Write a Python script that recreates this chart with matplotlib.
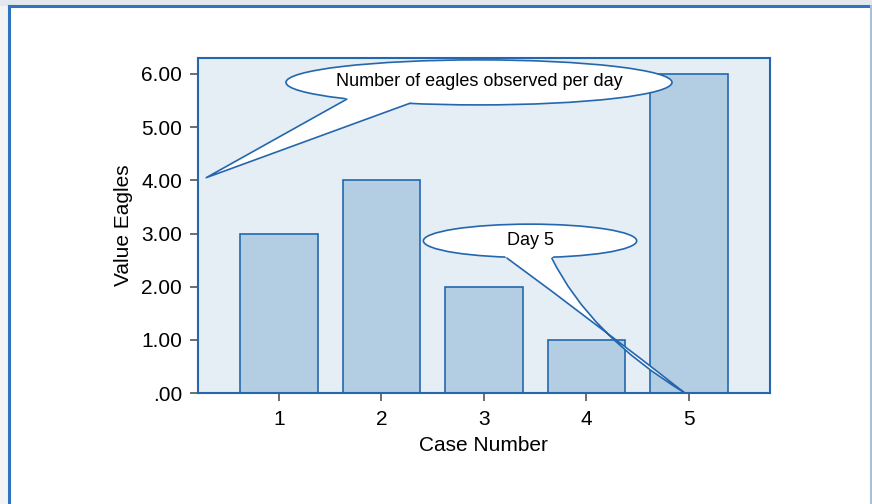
import matplotlib
matplotlib.use("Agg")
import matplotlib.pyplot as plt
from matplotlib.patches import Ellipse, Rectangle, PathPatch
from matplotlib.path import Path
from matplotlib.lines import Line2D

plt.rcParams['font.family'] = ['Liberation Sans', 'DejaVu Sans']

cases = [1, 2, 3, 4, 5]
eagles = [3, 4, 2, 1, 6]
y_ticks = [0, 1, 2, 3, 4, 5, 6]
y_tick_labels = ['.00', '1.00', '2.00', '3.00', '4.00', '5.00', '6.00']
x_tick_labels = ['1', '2', '3', '4', '5']
callout_main = "Number of eagles observed per day"
callout_day = "Day 5"

edge = '#2467AE'
bar_fill = '#B3CDE3'
ax_bg = '#E5EDF5'

fig = plt.figure(figsize=(8.72, 5.04), dpi=100)
fig.patch.set_facecolor('white')

# outer frame decorations
fig.patches.append(Rectangle((0, 0.989), 1, 0.011, transform=fig.transFigure,
                             facecolor='#E3E8EE', edgecolor='none', zorder=0))
fig.patches.append(Rectangle((0, 0), 0.0105, 0.989, transform=fig.transFigure,
                             facecolor='#F2F3F5', edgecolor='none', zorder=0))
fig.lines.append(Line2D([0.0108, 1], [0.9875, 0.9875], transform=fig.transFigure,
                        color='#2E74C0', lw=2.2))
fig.lines.append(Line2D([0.0108, 0.0108], [0, 0.9875], transform=fig.transFigure,
                        color='#2E74C0', lw=2.2))
fig.lines.append(Line2D([0.9988, 0.9988], [0, 0.9875], transform=fig.transFigure,
                        color='#A9BFD8', lw=1.5))

ax = fig.add_axes([0.2265, 0.2202, 0.6565, 0.6657])
ax.set_facecolor(ax_bg)
ax.bar(cases, eagles, width=0.76, color=bar_fill, edgecolor=edge, linewidth=1.2, zorder=2)

ax.set_xlim(0.205, 5.79)
ax.set_ylim(0, 6.31)
ax.set_xticks(cases)
ax.set_xticklabels(x_tick_labels)
ax.set_yticks(y_ticks)
ax.set_yticklabels(y_tick_labels)
ax.tick_params(axis='both', direction='out', length=6, width=1.2, color='#555555')
ax.tick_params(axis='y', labelsize=15, pad=5)
ax.tick_params(axis='x', labelsize=15, pad=6)
for s in ax.spines.values():
    s.set_color(edge)
    s.set_linewidth(1.5)

ax.set_xlabel('Case Number', fontsize=15, labelpad=5)
ax.set_ylabel('Value Eagles', fontsize=15, labelpad=6)

# callout 1
e1 = Ellipse((2.951, 5.842), 3.766, 0.847, facecolor='white', edgecolor=edge,
             linewidth=1.2, zorder=5)
ax.add_patch(e1)
tip1 = (0.29, 4.05)
b1a = (1.660, 5.525)
b1b = (2.278, 5.450)
ax.add_patch(plt.Polygon([(1.62, 5.60), b1a, tip1, b1b, (2.30, 5.52)], closed=True,
                         facecolor='white', edgecolor='none', zorder=6))
ax.add_line(Line2D([b1a[0], tip1[0], b1b[0]], [b1a[1], tip1[1], b1b[1]],
                   color=edge, lw=1.2, zorder=7))
ax.text(2.951, 5.85, callout_main, ha='center', va='center', fontsize=13, zorder=8)

# callout 2
e2 = Ellipse((3.449, 2.862), 2.081, 0.628, facecolor='white', edgecolor=edge,
             linewidth=1.2, zorder=5)
ax.add_patch(e2)
tip2 = (4.96, 0.0)
b2a = (3.221, 2.542)
b2b = (3.660, 2.542)
verts = [b2a, (4.10, 1.30), tip2, (4.034, 1.087), b2b, (3.70, 2.62), (3.18, 2.62), b2a]
codes = [Path.MOVETO, Path.CURVE3, Path.CURVE3, Path.CURVE3, Path.CURVE3,
         Path.LINETO, Path.LINETO, Path.CLOSEPOLY]
ax.add_patch(PathPatch(Path(verts, codes), facecolor='white', edgecolor='none', zorder=6))
outline = Path([b2a, (4.10, 1.30), tip2, (4.034, 1.087), b2b],
               [Path.MOVETO, Path.CURVE3, Path.CURVE3, Path.CURVE3, Path.CURVE3])
ax.add_patch(PathPatch(outline, facecolor='none', edgecolor=edge, lw=1.2, zorder=7))
ax.text(3.449, 2.87, callout_day, ha='center', va='center', fontsize=13, zorder=8)

fig.savefig('out.png', dpi=100)
